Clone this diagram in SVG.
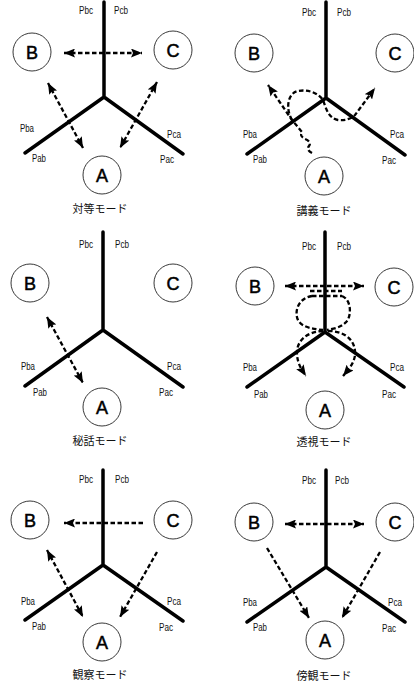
<svg xmlns="http://www.w3.org/2000/svg" width="414" height="685" viewBox="0 0 414 685">
<defs>
<style>
.bg{fill:#ffffff}
.arm{stroke:#000;stroke-width:3.5;stroke-linecap:round;fill:none}
.node{fill:#fff;stroke:#222;stroke-width:0.9}
.nl{font-family:"Liberation Sans",Arial,sans-serif;font-size:18px;text-anchor:middle;fill:#000;stroke:#000;stroke-width:0.5}
.pl{font-family:"Liberation Sans",Arial,sans-serif;font-size:10px;text-anchor:middle;fill:#111}
.cap{font-family:"Noto Sans CJK JP","Noto Sans CJK SC",sans-serif;font-size:11px;text-anchor:middle;fill:#111}
.d{stroke:#000;stroke-width:2.3;stroke-dasharray:4.5 2.5;fill:none}
.a2{marker-start:url(#ah);marker-end:url(#ah)}
.a1{marker-end:url(#ah)}
</style>
<marker id="ah" viewBox="0 0 11 9" refX="11" refY="4.5" markerWidth="11" markerHeight="9" markerUnits="userSpaceOnUse" orient="auto-start-reverse">
<path d="M0,0 L11,4.5 L0,9 L2,4.5 z" fill="#000"/>
</marker>
</defs>
<rect class="bg" x="0" y="0" width="414" height="685"/>

<!-- Panel 1: 対等モード -->
<g id="panel1">
<g id="p1-frame">
<path class="arm" d="M104,2 L104,97 M104,97 L25,153 M104,97 L183,154"/>
<text class="pl" x="86" y="14" textLength="14" lengthAdjust="spacingAndGlyphs">Pbc</text>
<text class="pl" x="121" y="14" textLength="14" lengthAdjust="spacingAndGlyphs">Pcb</text>
<text class="pl" x="27" y="132" textLength="14" lengthAdjust="spacingAndGlyphs">Pba</text>
<text class="pl" x="39" y="162" textLength="14" lengthAdjust="spacingAndGlyphs">Pab</text>
<text class="pl" x="174" y="138" textLength="14" lengthAdjust="spacingAndGlyphs">Pca</text>
<text class="pl" x="167" y="163" textLength="14" lengthAdjust="spacingAndGlyphs">Pac</text>
<text class="cap" x="100" y="213">対等モード</text>
</g>
<g id="p1-B"><circle class="node" cx="32" cy="52" r="19"/><text class="nl" x="32" y="58.5">B</text></g>
<g id="p1-C"><circle class="node" cx="173" cy="50" r="19"/><text class="nl" x="173" y="56.5">C</text></g>
<g id="p1-A"><circle class="node" cx="102" cy="175" r="19"/><text class="nl" x="102" y="181.5">A</text></g>
</g>

<!-- Panel 2: 講義モード -->
<g id="panel2">
<g id="p2-frame">
<path class="arm" d="M326,2 L326,98 M326,98 L247,154 M326,98 L405,155"/>
<text class="pl" x="309" y="16" textLength="14" lengthAdjust="spacingAndGlyphs">Pbc</text>
<text class="pl" x="344" y="16" textLength="14" lengthAdjust="spacingAndGlyphs">Pcb</text>
<text class="pl" x="250" y="138" textLength="14" lengthAdjust="spacingAndGlyphs">Pba</text>
<text class="pl" x="260" y="163" textLength="14" lengthAdjust="spacingAndGlyphs">Pab</text>
<text class="pl" x="397" y="138" textLength="14" lengthAdjust="spacingAndGlyphs">Pca</text>
<text class="pl" x="389" y="164" textLength="14" lengthAdjust="spacingAndGlyphs">Pac</text>
<text class="cap" x="324" y="215">講義モード</text>
</g>
<g id="p2-B"><circle class="node" cx="254" cy="53" r="19"/><text class="nl" x="254" y="59.5">B</text></g>
<g id="p2-C"><circle class="node" cx="395" cy="53" r="19"/><text class="nl" x="395" y="59.5">C</text></g>
<g id="p2-A"><circle class="node" cx="324" cy="176" r="19"/><text class="nl" x="324" y="182.5">A</text></g>
</g>

<!-- Panel 3: 秘話モード -->
<g id="panel3">
<g id="p3-frame">
<path class="arm" d="M103,232 L103,330 M103,330 L25,386 M103,330 L183,387"/>
<text class="pl" x="86" y="248" textLength="14" lengthAdjust="spacingAndGlyphs">Pbc</text>
<text class="pl" x="122" y="248" textLength="14" lengthAdjust="spacingAndGlyphs">Pcb</text>
<text class="pl" x="28" y="370" textLength="14" lengthAdjust="spacingAndGlyphs">Pba</text>
<text class="pl" x="40" y="396" textLength="14" lengthAdjust="spacingAndGlyphs">Pab</text>
<text class="pl" x="174" y="370" textLength="14" lengthAdjust="spacingAndGlyphs">Pca</text>
<text class="pl" x="166" y="396" textLength="14" lengthAdjust="spacingAndGlyphs">Pac</text>
<text class="cap" x="100" y="445">秘話モード</text>
</g>
<g id="p3-B"><circle class="node" cx="30" cy="283" r="19"/><text class="nl" x="30" y="289.5">B</text></g>
<g id="p3-C"><circle class="node" cx="173" cy="283" r="19"/><text class="nl" x="173" y="289.5">C</text></g>
<g id="p3-A"><circle class="node" cx="102" cy="407" r="19"/><text class="nl" x="102" y="413.5">A</text></g>
</g>

<!-- Panel 4: 透視モード -->
<g id="panel4">
<g id="p4-frame">
<path class="arm" d="M325,232 L325,332 M325,332 L247,387 M325,332 L404,387"/>
<text class="pl" x="309" y="250" textLength="14" lengthAdjust="spacingAndGlyphs">Pbc</text>
<text class="pl" x="344" y="250" textLength="14" lengthAdjust="spacingAndGlyphs">Pcb</text>
<text class="pl" x="250" y="371" textLength="14" lengthAdjust="spacingAndGlyphs">Pba</text>
<text class="pl" x="261" y="398" textLength="14" lengthAdjust="spacingAndGlyphs">Pab</text>
<text class="pl" x="397" y="371" textLength="14" lengthAdjust="spacingAndGlyphs">Pca</text>
<text class="pl" x="389" y="398" textLength="14" lengthAdjust="spacingAndGlyphs">Pac</text>
<text class="cap" x="324" y="446">透視モード</text>
</g>
<g id="p4-B"><circle class="node" cx="255" cy="286" r="19"/><text class="nl" x="255" y="292.5">B</text></g>
<g id="p4-C"><circle class="node" cx="394" cy="287" r="19"/><text class="nl" x="394" y="293.5">C</text></g>
<g id="p4-A"><circle class="node" cx="325" cy="410" r="19"/><text class="nl" x="325" y="416.5">A</text></g>
</g>

<!-- Panel 5: 観察モード -->
<g id="panel5">
<g id="p5-frame">
<path class="arm" d="M103,470 L103,565 M103,565 L25,620 M103,565 L183,621"/>
<text class="pl" x="86" y="483" textLength="14" lengthAdjust="spacingAndGlyphs">Pbc</text>
<text class="pl" x="122" y="483" textLength="14" lengthAdjust="spacingAndGlyphs">Pcb</text>
<text class="pl" x="28" y="605" textLength="14" lengthAdjust="spacingAndGlyphs">Pba</text>
<text class="pl" x="39" y="630" textLength="14" lengthAdjust="spacingAndGlyphs">Pab</text>
<text class="pl" x="174" y="605" textLength="14" lengthAdjust="spacingAndGlyphs">Pca</text>
<text class="pl" x="166" y="631" textLength="14" lengthAdjust="spacingAndGlyphs">Pac</text>
<text class="cap" x="100" y="679">観察モード</text>
</g>
<g id="p5-B"><circle class="node" cx="30" cy="520" r="19"/><text class="nl" x="30" y="526.5">B</text></g>
<g id="p5-C"><circle class="node" cx="173" cy="520" r="19"/><text class="nl" x="173" y="526.5">C</text></g>
<g id="p5-A"><circle class="node" cx="102" cy="642" r="19"/><text class="nl" x="102" y="648.5">A</text></g>
</g>

<!-- Panel 6: 傍観モード -->
<g id="panel6">
<g id="p6-frame">
<path class="arm" d="M326,470 L326,567 M326,567 L247,622 M326,567 L405,622"/>
<text class="pl" x="309" y="484" textLength="14" lengthAdjust="spacingAndGlyphs">Pbc</text>
<text class="pl" x="342" y="484" textLength="14" lengthAdjust="spacingAndGlyphs">Pcb</text>
<text class="pl" x="250" y="606" textLength="14" lengthAdjust="spacingAndGlyphs">Pba</text>
<text class="pl" x="260" y="631" textLength="14" lengthAdjust="spacingAndGlyphs">Pab</text>
<text class="pl" x="395" y="606" textLength="14" lengthAdjust="spacingAndGlyphs">Pca</text>
<text class="pl" x="389" y="632" textLength="14" lengthAdjust="spacingAndGlyphs">Pac</text>
<text class="cap" x="324" y="680">傍観モード</text>
</g>
<g id="p6-B"><circle class="node" cx="254" cy="522" r="19"/><text class="nl" x="254" y="528.5">B</text></g>
<g id="p6-C"><circle class="node" cx="395" cy="522" r="19"/><text class="nl" x="395" y="528.5">C</text></g>
<g id="p6-A"><circle class="node" cx="325" cy="640" r="19"/><text class="nl" x="325" y="646.5">A</text></g>
</g>

<!-- Connectors -->
<g id="connectors">
<path class="d a2" d="M64,53 L142,53"/>
<path class="d a2" d="M48,83 L83,148"/>
<path class="d a2" d="M157,82 L120,148"/>

<path class="d a1" d="M312,153 Q306,150 309,146 Q312,142 305,139 Q299,136 302,132 L292,120 L268,85"/>
<path class="d a1" d="M292,120 C285,108 288,93 298,91 C308,89 318,93 323,100 C326,108 328,118 338,120 C346,121 352,118 355,115 L375,88"/>

<path class="d a2" d="M47,317 L83,383"/>

<path class="d a2" d="M285,286 L364,286"/>
<path class="d" d="M310,291 L342,291"/>
<path class="d" d="M312,296 L342,296"/>
<path class="d" d="M312,296 C298,298 294,312 298,320 C302,328 315,329 323,330"/>
<path class="d" d="M342,296 C352,300 352,318 345,323 C340,328 332,329 327,330"/>
<path class="d a1" d="M323,331 C305,332 296,342 297,355 C298,365 302,370 306,376"/>
<path class="d a1" d="M328,331 C347,331 356,342 355,355 C354,364 348,370 343,376"/>

<path class="d a1" d="M143,523 L64,523"/>
<path class="d a2" d="M47,550 L83,617"/>
<path class="d a1" d="M157,552 L120,617"/>

<path class="d a2" d="M285,524 L364,524"/>
<path class="d a1" d="M267,548 L309,618"/>
<path class="d a1" d="M380,552 L342,618"/>
</g>
</svg>
